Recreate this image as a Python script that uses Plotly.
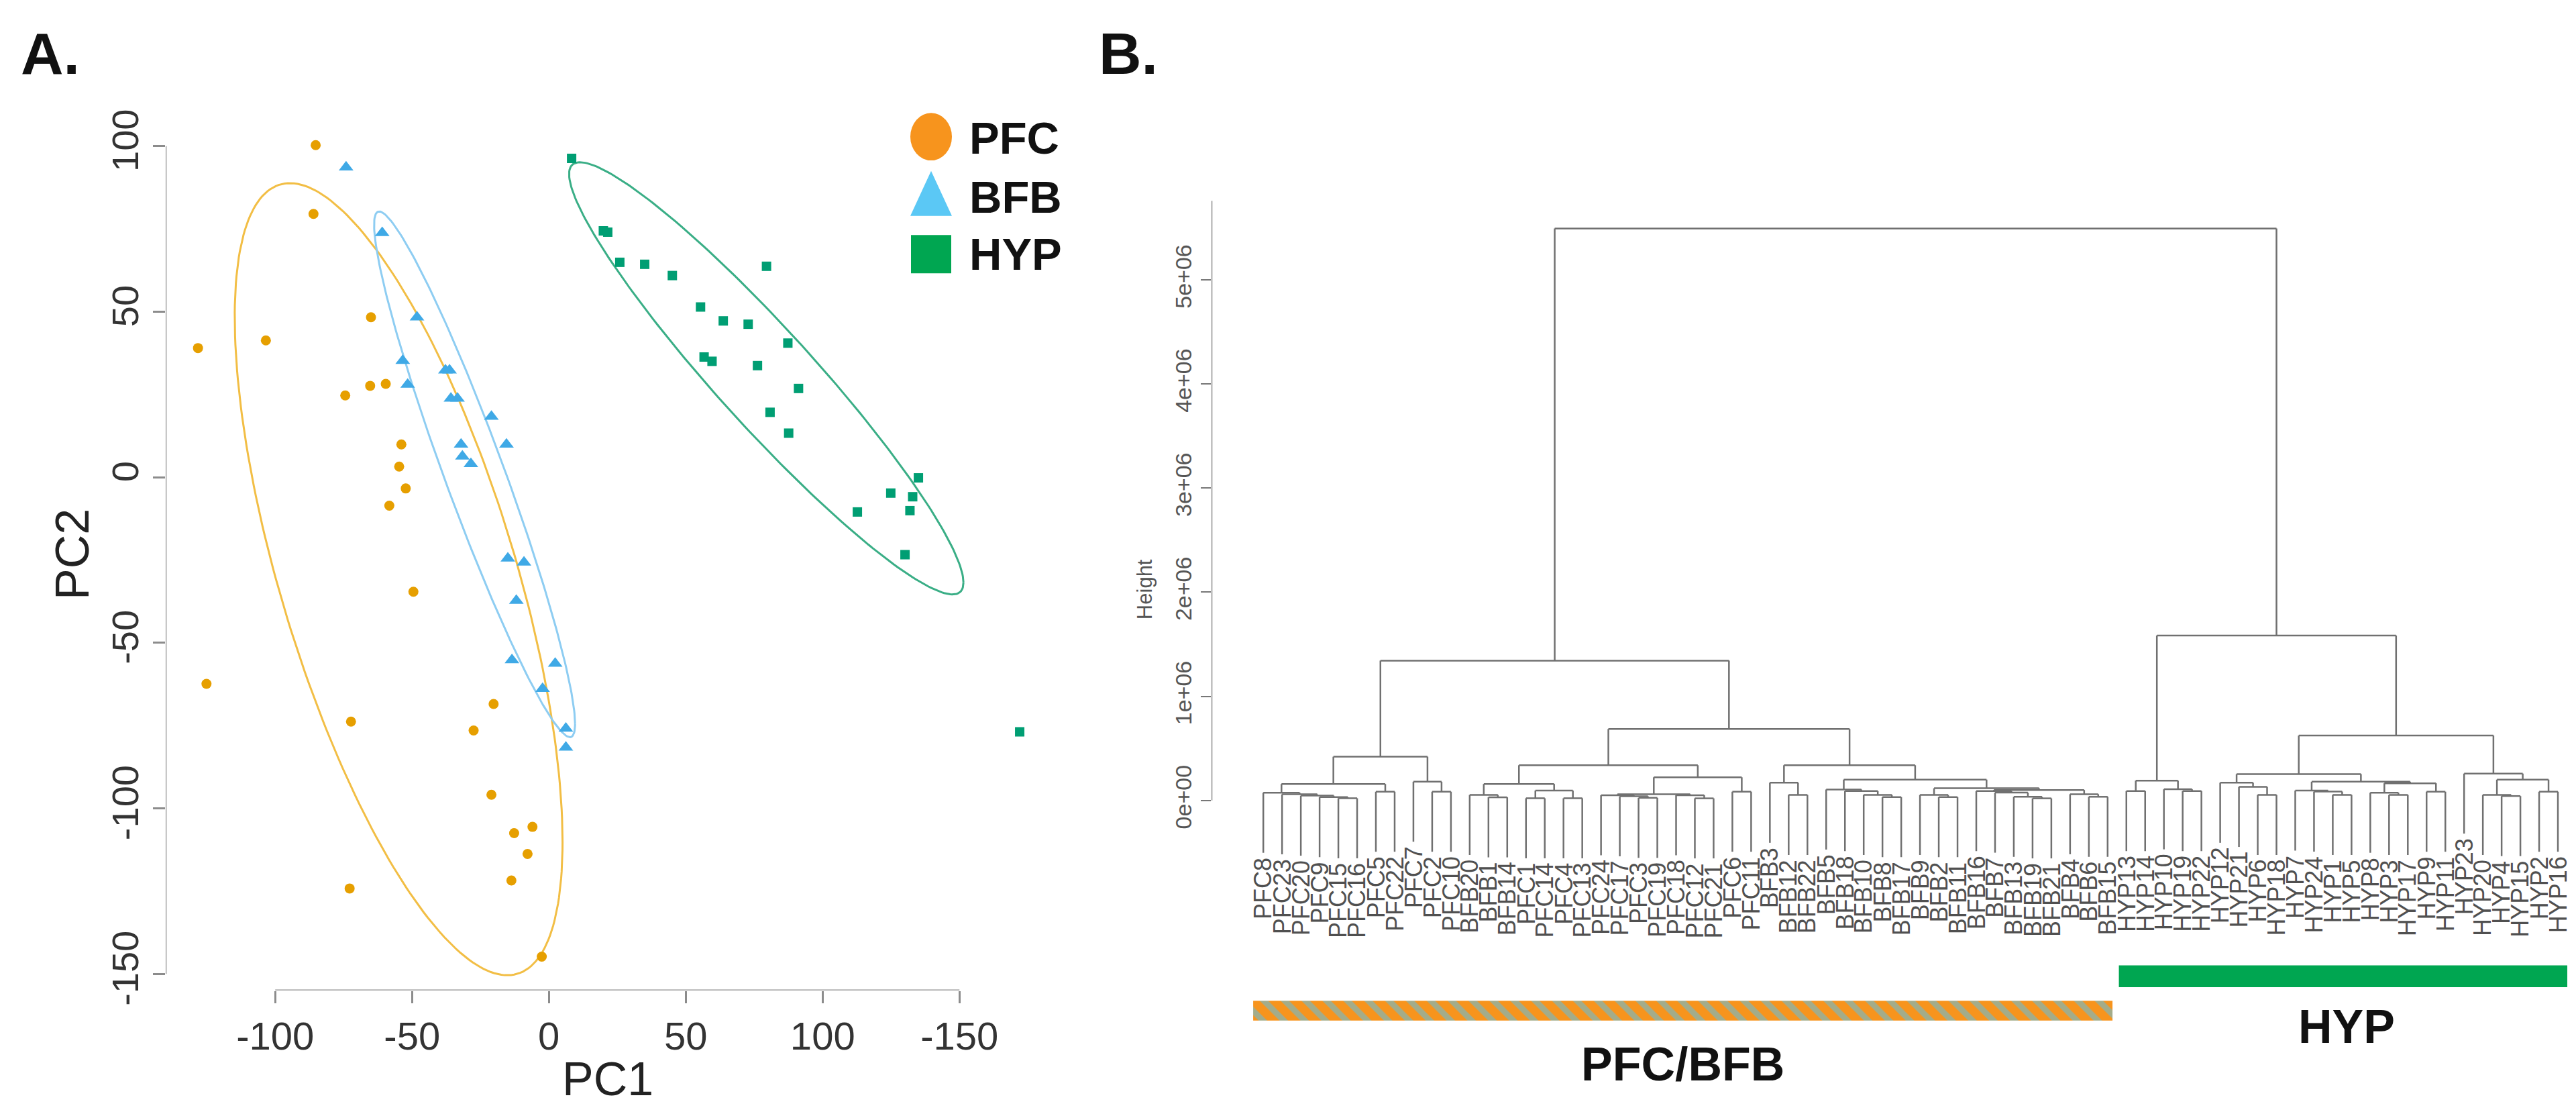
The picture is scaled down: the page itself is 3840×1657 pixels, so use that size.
import numpy as np
import plotly.graph_objects as go

W, H = 3840, 1657

# ---------------- Panel A: PCA scores ----------------
pfc_x = [-85.2, -86.0, -128.2, -103.4, -65.0, -74.4, -65.3, -59.6, -53.9, -54.7, -52.3, -58.3,
         -49.5, -125.1, -72.3, -20.2, -27.5, -21.0, -6.0, -12.7, -7.8, -13.7, -72.8, -2.6]
pfc_y = [100.3, 79.5, 39.0, 41.3, 48.3, 24.7, 27.6, 28.2, 9.9, 3.2, -3.4, -8.6,
         -34.6, -62.4, -73.8, -68.5, -76.5, -95.9, -105.6, -107.5, -113.8, -121.8, -124.2, -144.8]
bfb_x = [-74.1, -60.9, -48.2, -53.4, -51.6, -37.8, -36.3, -35.8, -33.4, -21.0, -32.1,
         -31.6, -28.5, -15.5, -15.0, -9.1, -11.9, -13.5, 2.3, -2.3, 6.2, 6.2]
bfb_y = [93.6, 73.8, 48.3, 35.2, 28.0, 32.3, 32.3, 23.8, 23.8, 18.3, 9.9,
         6.3, 4.0, 9.9, -24.5, -25.7, -37.3, -55.2, -56.3, -63.9, -75.9, -81.6]
hyp_x = [8.3, 19.9, 21.5, 25.9, 35.0, 45.1, 79.5, 55.4, 63.7, 72.8, 87.3, 56.7,
         59.6, 76.2, 91.2, 80.8, 87.6, 135.0, 124.9, 132.9, 112.7, 131.9, 130.1, 172.0]
hyp_y = [96.3, 74.4, 74.0, 64.9, 64.3, 60.9, 63.7, 51.4, 47.2, 46.2, 40.5, 36.3,
         35.0, 33.7, 26.8, 19.6, 13.3, -0.2, -4.8, -5.9, -10.5, -10.1, -23.4, -76.9]

groups = ["PFC", "BFB", "HYP"]
x_ticks = [-100, -50, 0, 50, 100, 150]
x_tick_text = ["-100", "-50", "0", "50", "100", "-150"]
y_ticks = [-150, -100, -50, 0, 50, 100]
y_tick_text = ["-150", "-100", "-50", "0", "50", "100"]

# ---------------- Panel B: dendrogram (heights in millions) ----------------
leaf_labels = ["PFC8", "PFC23", "PFC20", "PFC9", "PFC15", "PFC16", "PFC5", "PFC22", "PFC7", "PFC2",
               "PFC10", "BFB20", "BFB1", "BFB14", "PFC1", "PFC14", "PFC4", "PFC13", "PFC24", "PFC17",
               "PFC3", "PFC19", "PFC18", "PFC12", "PFC21", "PFC6", "PFC11", "BFB3", "BFB12", "BFB22",
               "BFB5", "BFB18", "BFB10", "BFB8", "BFB17", "BFB9", "BFB2", "BFB11", "BFB16", "BFB7",
               "BFB13", "BFB19", "BFB21", "BFB4", "BFB6", "BFB15", "HYP13", "HYP14", "HYP10", "HYP19",
               "HYP22", "HYP12", "HYP21", "HYP6", "HYP18", "HYP7", "HYP24", "HYP1", "HYP5", "HYP8",
               "HYP3", "HYP17", "HYP9", "HYP11", "HYP23", "HYP20", "HYP4", "HYP15", "HYP2", "HYP16"]

left_sub = [0.42,
            [0.158,
             [0.074, "PFC8", [0.059, "PFC23", [0.046, "PFC20", [0.032, "PFC9", [0.021, "PFC15", "PFC16"]]]]],
             [0.084, "PFC5", "PFC22"]],
            [0.18, "PFC7", [0.084, "PFC2", "PFC10"]]]
d_left = [0.158,
          [0.053, "BFB20", [0.03, "BFB1", "BFB14"]],
          [0.095, [0.021, "PFC1", "PFC14"], [0.021, "PFC4", "PFC13"]]]
d_right = [0.222,
           [0.059,
            [0.05, "PFC24", [0.04, "PFC17", [0.025, "PFC3", "PFC19"]]],
            [0.05, "PFC18", [0.02, "PFC12", "PFC21"]]],
           [0.084, "PFC6", "PFC11"]]
e_clu = [0.338,
         [0.17, "BFB3", [0.053, "BFB12", "BFB22"]],
         [0.20,
          [0.105, "BFB5", [0.09, "BFB18", [0.053, "BFB10", [0.032, "BFB8", "BFB17"]]]],
          [0.117,
           [0.053, "BFB9", [0.032, "BFB2", "BFB11"]],
           [0.10,
            [0.09, "BFB16", [0.075, "BFB7", [0.035, "BFB13", [0.02, "BFB19", "BFB21"]]]],
            [0.06, "BFB4", [0.035, "BFB6", "BFB15"]]]]]]
pfc_bfb = [1.343, left_sub, [0.686, [0.338, d_left, d_right], e_clu]]
hyp_left = [0.19, [0.09, "HYP13", "HYP14"], [0.107, "HYP10", [0.09, "HYP19", "HYP22"]]]
hyp_p = [0.17, "HYP12", [0.13, "HYP21", [0.053, "HYP6", "HYP18"]]]
hyp_m = [0.18,
         [0.095, "HYP7", [0.085, "HYP24", [0.053, "HYP1", "HYP5"]]],
         [0.165, [0.074, "HYP8", [0.053, "HYP3", "HYP17"]], [0.084, "HYP9", "HYP11"]]]
hyp_q = [0.258, "HYP23", [0.20, [0.053, "HYP20", [0.042, "HYP4", "HYP15"]], [0.084, "HYP2", "HYP16"]]]
hyp_clu = [1.584, hyp_left, [0.623, [0.253, hyp_p, hyp_m], hyp_q]]
tree = [5.494, pfc_bfb, hyp_clu]

height_ticks = [0, 1, 2, 3, 4, 5]
height_tick_text = ["0e+00", "1e+06", "2e+06", "3e+06", "4e+06", "5e+06"]

band_names = ["PFC/BFB", "HYP"]
band_first_leaf = [1, 47]
band_last_leaf = [46, 70]

# ---------------- styles ----------------
pt_col = {"PFC": "#E69F00", "BFB": "#3FA9E6", "HYP": "#009E73"}
ell_col = {"PFC": "#F2BE45", "BFB": "#8ECDF2", "HYP": "#3AAE86"}
leg_col = {"PFC": "#F7941D", "BFB": "#5BC8F5", "HYP": "#00A651"}
NARROW = "Liberation Sans Narrow, Arial Narrow, Liberation Sans, Arial, sans-serif"
SANS = "Liberation Sans, Arial, sans-serif"
PX_PER_UNIT = 157.8          # dendrogram: pixels per 1e6 of height
Y0_PIX = 1200                # pixel row of height 0

fig = go.Figure()

data = {"PFC": (pfc_x, pfc_y), "BFB": (bfb_x, bfb_y), "HYP": (hyp_x, hyp_y)}


def ellipse(xs, ys, level=0.75, n=240):
    X = np.column_stack([xs, ys])
    mu = X.mean(axis=0)
    S = np.cov(X.T)
    r = np.sqrt(-2 * np.log(1 - level))
    L = np.linalg.cholesky(S)
    t = np.linspace(0, 2 * np.pi, n)
    pts = mu[:, None] + r * (L @ np.vstack([np.cos(t), np.sin(t)]))
    return pts[0], pts[1]


for g in groups:
    ex, ey = ellipse(*data[g])
    fig.add_trace(go.Scatter(x=ex, y=ey, mode="lines", line=dict(color=ell_col[g], width=3),
                             hoverinfo="skip", showlegend=False, xaxis="x", yaxis="y"))

symbols = {"PFC": ("circle", 15), "BFB": ("triangle-up", 19), "HYP": ("square", 14)}
for g in groups:
    sym, sz = symbols[g]
    fig.add_trace(go.Scatter(x=data[g][0], y=data[g][1], mode="markers", name=g,
                             marker=dict(symbol=sym, size=sz, color=pt_col[g], line=dict(width=0)),
                             showlegend=False, xaxis="x", yaxis="y"))

# ---------------- dendrogram geometry ----------------
hang = 0.105 * tree[0]
seg_x, seg_y = [], []
leaf_end = {}
visit = []


def walk(node):
    if isinstance(node, str):
        visit.append(node)
        return float(len(visit)), None
    h, a, b = node
    xa, ha = walk(a)
    xb, hb = walk(b)
    for xc, hc, nm in ((xa, ha, a), (xb, hb, b)):
        bottom = hc if hc is not None else h - hang
        if hc is None:
            leaf_end[nm] = bottom
        seg_x.extend([xc, xc, None])
        seg_y.extend([bottom, h, None])
    seg_x.extend([xa, xb, None])
    seg_y.extend([h, h, None])
    return (xa + xb) / 2, h


walk(tree)
assert visit == leaf_labels

fig.add_trace(go.Scatter(x=seg_x, y=seg_y, mode="lines", line=dict(color="#707070", width=2.5),
                         hoverinfo="skip", showlegend=False, xaxis="x2", yaxis="y2"))

# group bands under the dendrogram
band_y = [-2.02, -1.689]
band_w = [0.19, 0.21]
band_pad_l = [0.54, 0.4]
band_pad_r = [0.26, 0.5]
fig.add_trace(go.Bar(y=[band_y[0]], x=[band_last_leaf[0] + band_pad_r[0] - (band_first_leaf[0] - band_pad_l[0])],
                     base=[band_first_leaf[0] - band_pad_l[0]], width=[band_w[0]], orientation="h",
                     marker=dict(color="#F7941D", line=dict(width=0),
                                 pattern=dict(shape="\\", fgcolor="#4FC3F7", bgcolor="#F7941D",
                                              size=22, solidity=0.4)),
                     showlegend=False, hoverinfo="skip", xaxis="x2", yaxis="y2"))
fig.add_trace(go.Bar(y=[band_y[1]], x=[band_last_leaf[1] + band_pad_r[1] - (band_first_leaf[1] - band_pad_l[1])],
                     base=[band_first_leaf[1] - band_pad_l[1]], width=[band_w[1]], orientation="h",
                     marker=dict(color="#00A651", line=dict(width=0)),
                     showlegend=False, hoverinfo="skip", xaxis="x2", yaxis="y2"))

# leaf labels: top of each rotated label sits just under its leaf end
CHAR_W = {"P": 0.667, "F": 0.611, "C": 0.722, "B": 0.667, "H": 0.722, "Y": 0.667}
LAB_SIZE = 36
annotations = []
label_gap_px = 8
for i, lab in enumerate(leaf_labels):
    length_px = sum(CHAR_W.get(c, 0.556) for c in lab) * LAB_SIZE
    top_val = leaf_end[lab] - label_gap_px / PX_PER_UNIT
    centre_val = top_val - (length_px / 2) / PX_PER_UNIT
    annotations.append(dict(x=i + 1, y=centre_val, xref="x2", yref="y2", text=lab,
                            showarrow=False, textangle=-90, xanchor="center", yanchor="middle",
                            font=dict(family=SANS, size=LAB_SIZE, color="#505050")))


def px(xp):
    return xp / W


def py(yp):
    return 1 - yp / H


annotations += [
    dict(x=px(21), y=py(68), xref="paper", yref="paper", text="<b>A.</b>", showarrow=False,
         xanchor="left", yanchor="middle", font=dict(family=SANS, size=88, color="#111111")),
    dict(x=px(1628), y=py(68), xref="paper", yref="paper", text="<b>B.</b>", showarrow=False,
         xanchor="left", yanchor="middle", font=dict(family=SANS, size=88, color="#111111")),
    dict(x=px(898), y=py(1622), xref="paper", yref="paper", text="PC1", showarrow=False,
         xanchor="center", yanchor="middle", font=dict(family=SANS, size=70, color="#222222")),
    dict(x=px(100), y=py(827), xref="paper", yref="paper", text="PC2", showarrow=False, textangle=-90,
         xanchor="center", yanchor="middle", font=dict(family=SANS, size=70, color="#222222")),
    dict(x=px(1698), y=py(880), xref="paper", yref="paper", text="Height", showarrow=False, textangle=-90,
         xanchor="center", yanchor="middle", font=dict(family=SANS, size=31, color="#555555")),
    dict(x=px(2500), y=py(1600), xref="paper", yref="paper", text="<b>" + band_names[0] + "</b>",
         showarrow=False, xanchor="center", yanchor="middle", font=dict(family=SANS, size=70, color="#111111")),
    dict(x=px(3490), y=py(1543), xref="paper", yref="paper", text="<b>" + band_names[1] + "</b>",
         showarrow=False, xanchor="center", yanchor="middle", font=dict(family=SANS, size=70, color="#111111")),
]

# legend (manual, panel A)
leg_y = [196, 285, 372]
for g, yy in zip(groups, leg_y):
    annotations.append(dict(x=px(1435), y=py(yy), xref="paper", yref="paper", text="<b>" + g + "</b>",
                            showarrow=False, xanchor="left", yanchor="middle",
                            font=dict(family=SANS, size=67, color="#111111")))

shapes = [
    dict(type="circle", xref="paper", yref="paper", x0=px(1349), x1=px(1411), y0=py(230), y1=py(158),
         fillcolor=leg_col["PFC"], line=dict(width=0)),
    dict(type="path", xref="paper", yref="paper",
         path=f"M {px(1380)} {py(246)} L {px(1411)} {py(314)} L {px(1349)} {py(314)} Z",
         fillcolor=leg_col["BFB"], line=dict(width=0)),
    dict(type="rect", xref="paper", yref="paper", x0=px(1350), x1=px(1410), y0=py(401), y1=py(343),
         fillcolor=leg_col["HYP"], line=dict(width=0)),
    # R-style axis lines spanning tick range
    dict(type="line", xref="x", yref="y", x0=-140, x1=-140, y0=-150, y1=100,
         line=dict(color="#8c8c8c", width=2.5)),
    dict(type="line", xref="x", yref="y", x0=-100, x1=150, y0=-155, y1=-155,
         line=dict(color="#8c8c8c", width=2.5)),
    dict(type="line", xref="x2", yref="y2", x0=-1.76, x1=-1.76, y0=0, y1=5.76,
         line=dict(color="#777777", width=2.5)),
]

fig.update_layout(
    width=W, height=H, margin=dict(l=0, r=0, t=0, b=0),
    paper_bgcolor="white", plot_bgcolor="white", barmode="overlay", showlegend=False,
    xaxis=dict(domain=[px(239), px(1561)], range=[-140, 184], anchor="y",
               tickmode="array", tickvals=x_ticks, ticktext=x_tick_text,
               ticks="outside", ticklen=18, tickwidth=2.5, tickcolor="#8c8c8c",
               showgrid=False, zeroline=False, showline=False,
               tickfont=dict(family=NARROW, size=58, color="#333333")),
    yaxis=dict(domain=[py(1488), py(158)], range=[-155, 110], anchor="x",
               tickmode="array", tickvals=y_ticks, ticktext=y_tick_text, tickangle=-90,
               ticks="outside", ticklen=18, tickwidth=2.5, tickcolor="#8c8c8c",
               showgrid=False, zeroline=False, showline=False,
               tickfont=dict(family=NARROW, size=56, color="#333333")),
    xaxis2=dict(domain=[px(1798), 1.0], range=[-1.76, 71.25], anchor="y2", visible=False),
    yaxis2=dict(domain=[0, 1], range=[(Y0_PIX - H) / PX_PER_UNIT, Y0_PIX / PX_PER_UNIT], anchor="x2",
                tickmode="array", tickvals=height_ticks, ticktext=height_tick_text, tickangle=-90,
                ticks="outside", ticklen=15, tickwidth=2, tickcolor="#777777",
                showgrid=False, zeroline=False, showline=False,
                tickfont=dict(family=SANS, size=34, color="#555555")),
    annotations=annotations, shapes=shapes,
)

fig.write_html("out.html")
